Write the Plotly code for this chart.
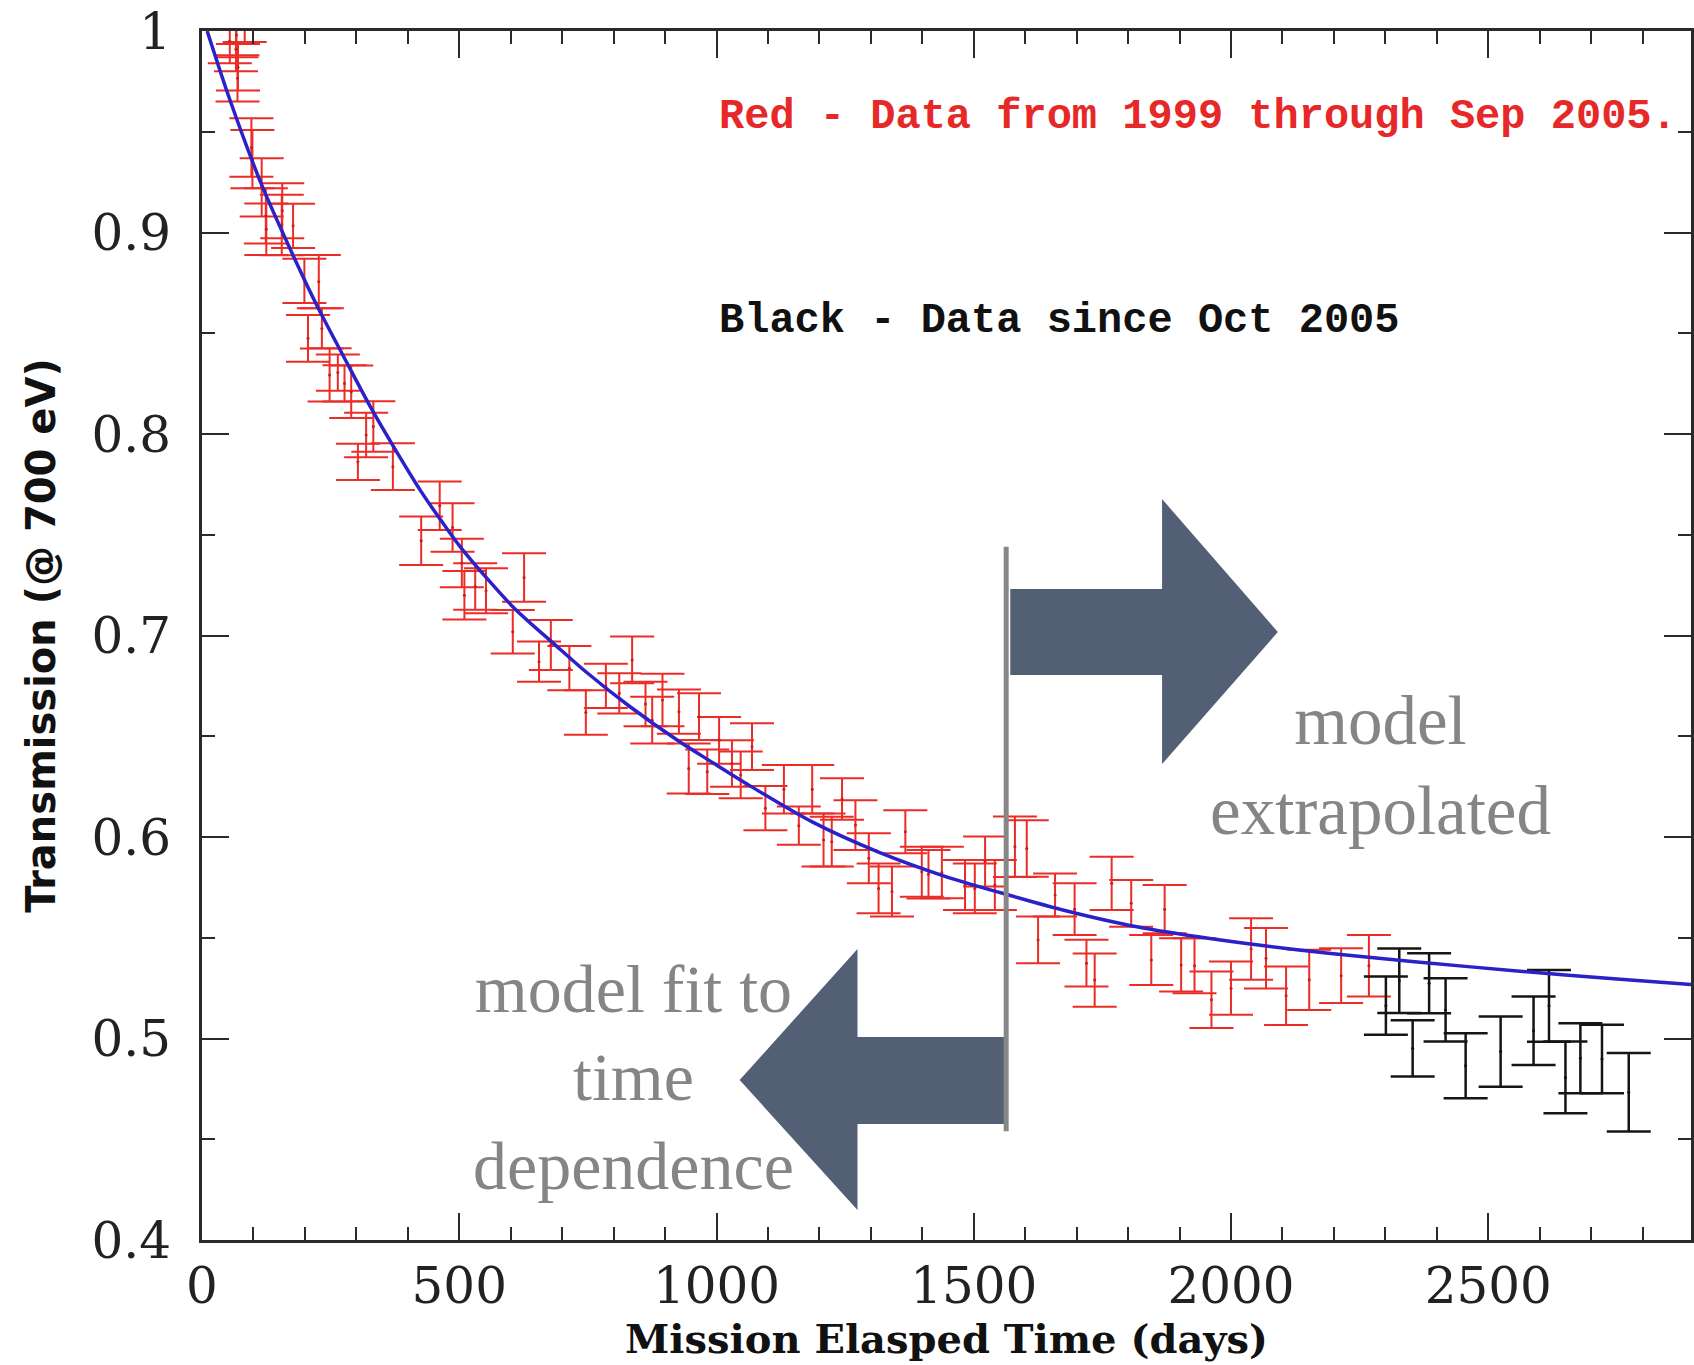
import plotly.graph_objects as go

# ---------------- data ----------------
red_days = [54, 66, 67, 69, 70, 83, 96, 98, 116, 124, 125, 155, 156, 177, 199, 206, 227, 233,
            248, 264, 277, 290, 303, 319, 333, 371, 426, 462, 487, 505, 510, 531, 552, 604,
            626, 655, 678, 714, 746, 785, 811, 836, 862, 875, 895, 927, 946, 966, 982, 1005,
            1030, 1047, 1069, 1095, 1131, 1160, 1186, 1208, 1224, 1244, 1270, 1296, 1315,
            1341, 1367, 1399, 1412, 1438, 1483, 1502, 1522, 1541, 1580, 1603, 1625, 1658,
            1696, 1719, 1735, 1768, 1806, 1845, 1871, 1903, 1929, 1962, 2000, 2039, 2068,
            2107, 2152, 2214, 2268]
red_vals = [0.995, 0.991, 0.998, 0.9765, 0.982, 1.006, 0.9422, 0.9364, 0.9224, 0.9083, 0.9016,
            0.9037, 0.9108, 0.9033, 0.876, 0.8475, 0.8756, 0.8524, 0.8293, 0.8305, 0.8251,
            0.821, 0.7862, 0.7995, 0.8037, 0.7838, 0.747, 0.7644, 0.7536, 0.736, 0.720,
            0.7243, 0.7222, 0.7019, 0.7288, 0.687, 0.6953, 0.6838, 0.6618, 0.675, 0.6713,
            0.6879, 0.666, 0.658, 0.668, 0.6622, 0.634, 0.6597, 0.6324, 0.648, 0.6365,
            0.6308, 0.6448, 0.6143, 0.6237, 0.6056, 0.6237, 0.5985, 0.5977, 0.6188, 0.6059,
            0.5894, 0.5745, 0.5729, 0.6026, 0.5828, 0.5815, 0.5824, 0.5762, 0.5745, 0.5878,
            0.5762, 0.5952, 0.5943, 0.5489, 0.5712, 0.5642, 0.5374, 0.529, 0.577, 0.5671,
            0.539, 0.5642, 0.5365, 0.5361, 0.5192, 0.525, 0.5444, 0.5398, 0.5212, 0.5291,
            0.5312, 0.5361]
red_errs = [0.011, 0.011, 0.011, 0.0115, 0.0115, 0.0115, 0.0145, 0.0145, 0.0145, 0.0137, 0.0128,
            0.015, 0.0137, 0.011, 0.011, 0.0116, 0.0132, 0.010, 0.0132, 0.009, 0.009, 0.013,
            0.009, 0.011, 0.0125, 0.0116, 0.012, 0.012, 0.012, 0.012, 0.012, 0.0115, 0.0112,
            0.0108, 0.012, 0.010, 0.0124, 0.011, 0.011, 0.011, 0.010, 0.0116, 0.011, 0.0116,
            0.013, 0.011, 0.0124, 0.0116, 0.011, 0.0116, 0.0115, 0.0116, 0.0116, 0.011,
            0.012, 0.0095, 0.012, 0.0132, 0.0124, 0.0103, 0.0124, 0.0124, 0.0124, 0.0124,
            0.0107, 0.0124, 0.012, 0.0128, 0.0124, 0.0124, 0.0124, 0.0124, 0.015, 0.014,
            0.0116, 0.0107, 0.0128, 0.0116, 0.0132, 0.0132, 0.0116, 0.0124, 0.012, 0.0132,
            0.0136, 0.014, 0.0132, 0.0153, 0.015, 0.0145, 0.015, 0.0136, 0.0153]

black_days = [2301, 2327, 2353, 2385, 2417, 2456, 2524, 2588, 2618, 2650, 2679, 2721, 2773]
black_vals = [0.5163, 0.5287, 0.4951, 0.5274, 0.5142, 0.4865, 0.4935, 0.5039, 0.5162, 0.4807,
              0.4902, 0.4898, 0.4733]
black_errs = [0.0145, 0.016, 0.014, 0.0149, 0.0157, 0.0161, 0.0174, 0.017, 0.0178, 0.0178,
              0.0174, 0.017, 0.0195]

model_days = [10, 54, 116, 180, 226, 277, 329, 374, 426, 471, 507, 604, 688, 746, 830, 927,
              992, 1056, 1186, 1315, 1444, 1554, 1677, 1806, 1936, 2065, 2194, 2362, 2556,
              2750, 2894]
model_vals = [1.0, 0.966, 0.9236, 0.887, 0.8624, 0.8376, 0.8127, 0.793, 0.7714, 0.7548, 0.7424,
              0.7143, 0.6950, 0.6820, 0.6650, 0.6475, 0.6370, 0.6268, 0.6075, 0.5925, 0.5805,
              0.5722, 0.5635, 0.5560, 0.5505, 0.5460, 0.5422, 0.5380, 0.5335, 0.5295, 0.5268]

x_tickvals = [0, 500, 1000, 1500, 2000, 2500]
x_ticktext = ["0", "500", "1000", "1500", "2000", "2500"]
y_tickvals = [0.4, 0.5, 0.6, 0.7, 0.8, 0.9, 1.0]
y_ticktext = ["0.4", "0.5", "0.6", "0.7", "0.8", "0.9", "1"]

split_day = 1563  # boundary between fitted and extrapolated part

# ---------------- figure ----------------
fig = go.Figure()

fig.add_trace(go.Scatter(
    x=red_days, y=red_vals, mode="markers",
    marker=dict(size=3, color="rgb(200,30,30)"),
    error_y=dict(type="data", array=red_errs, visible=True, width=22, thickness=2,
                 color="rgb(235,45,40)"),
    name="Red - Data from 1999 through Sep 2005", showlegend=False))

fig.add_trace(go.Scatter(
    x=black_days, y=black_vals, mode="markers",
    marker=dict(size=3, color="#111"),
    error_y=dict(type="data", array=black_errs, visible=True, width=22, thickness=2.5,
                 color="#151515"),
    name="Black - Data since Oct 2005", showlegend=False))

fig.add_trace(go.Scatter(
    x=model_days, y=model_vals, mode="lines",
    line=dict(color="#2a22c8", width=3.5, shape="spline", smoothing=0.8),
    name="model", showlegend=False))

arrow_col = "#535f74"
# right arrow (model extrapolated)
fig.add_shape(type="path", xref="x", yref="y", layer="above",
              path="M 1571,0.7231 L 1866,0.7231 L 1866,0.7677 L 2091,0.7017 "
                   "L 1866,0.6362 L 1866,0.6804 L 1571,0.6804 Z",
              fillcolor=arrow_col, line=dict(width=0))
# left arrow (model fit)
fig.add_shape(type="path", xref="x", yref="y", layer="above",
              path="M 1561,0.5007 L 1274,0.5007 L 1274,0.5444 L 1045,0.4794 "
                   "L 1274,0.4149 L 1274,0.4576 L 1561,0.4576 Z",
              fillcolor=arrow_col, line=dict(width=0))
# split line
fig.add_shape(type="line", xref="x", yref="y", layer="above",
              x0=split_day, x1=split_day, y0=0.454, y1=0.744,
              line=dict(color="#878787", width=5))

mono = "Liberation Mono"
fig.add_annotation(x=1001, y=0.9573, xref="x", yref="y", xanchor="left", yanchor="middle",
                   text="<b>Red - Data from 1999 through Sep 2005.</b>", showarrow=False,
                   font=dict(family=mono, size=42, color="rgb(230,40,40)"))
fig.add_annotation(x=1001, y=0.8561, xref="x", yref="y", xanchor="left", yanchor="middle",
                   text="<b>Black - Data since Oct 2005</b>", showarrow=False,
                   font=dict(family=mono, size=42, color="#111"))
serif = "Liberation Serif"
fig.add_annotation(x=2290, y=0.6352, xref="x", yref="y", xanchor="center", yanchor="middle",
                   text="model<br>extrapolated", showarrow=False, align="center",
                   font=dict(family=serif, size=69, color="#858585"))
fig.add_annotation(x=838, y=0.4804, xref="x", yref="y", xanchor="center", yanchor="middle",
                   text="model fit to<br>time<br>dependence", showarrow=False, align="center",
                   font=dict(family=serif, size=68, color="#858585"))

axis_common = dict(showline=True, linecolor="#2a2a2a", linewidth=3, mirror="ticks",
                   ticks="inside", tickcolor="#2a2a2a", tickwidth=2, ticklen=27,
                   showgrid=False, zeroline=False,
                   tickfont=dict(family="DejaVu Serif", size=50, color="#222"))

fig.update_xaxes(range=[0, 2894], tickvals=x_tickvals, ticktext=x_ticktext,
                 minor=dict(dtick=100, tick0=0, ticks="inside", ticklen=13, tickwidth=2,
                            tickcolor="#2a2a2a", showgrid=False),
                 title=dict(text="<b>Mission Elasped Time (days)</b>", standoff=5,
                            font=dict(family="DejaVu Serif", size=40, color="#111")),
                 **axis_common)
fig.update_yaxes(range=[0.4, 1.0], tickvals=y_tickvals, ticktext=y_ticktext,
                 ticklabelstandoff=18,
                 minor=dict(dtick=0.05, tick0=0, ticks="inside", ticklen=13, tickwidth=2,
                            tickcolor="#2a2a2a", showgrid=False),
                 title=dict(text="<b>Transmission (@ 700 eV)</b>", standoff=24,
                            font=dict(family="DejaVu Sans", size=40, color="#111")),
                 **axis_common)

fig.update_layout(width=1694, height=1365, plot_bgcolor="white", paper_bgcolor="white",
                  margin=dict(l=202, r=0, t=31, b=125, pad=0), showlegend=False)

fig.write_html("out.html")
